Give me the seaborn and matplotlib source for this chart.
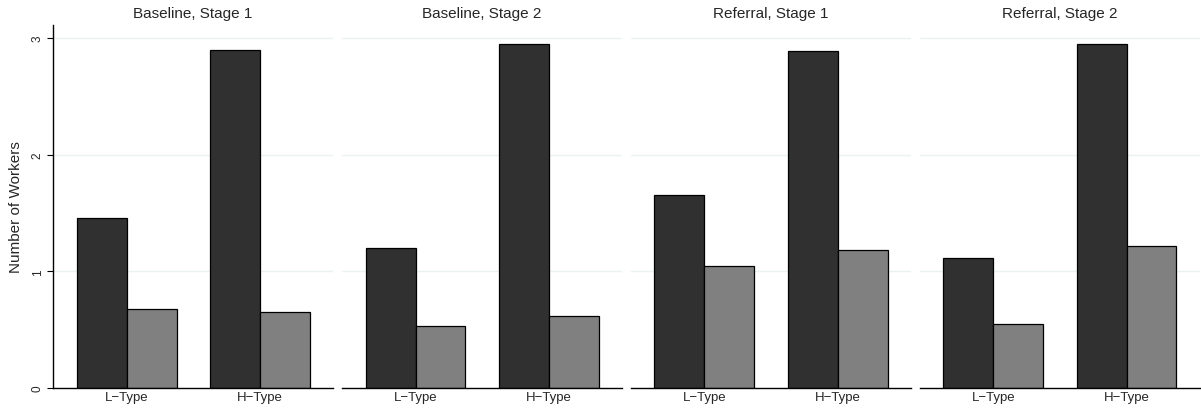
import matplotlib
matplotlib.use("Agg")
import matplotlib.pyplot as plt
import seaborn as sns
import pandas as pd

panels = ["Baseline, Stage 1", "Baseline, Stage 2", "Referral, Stage 1", "Referral, Stage 2"]
types = ["L\u2212Type", "H\u2212Type"]
series = ["A", "B"]
# values per panel: [L dark, L gray, H dark, H gray]
dark_vals = [[1.46, 2.90], [1.20, 2.95], [1.65, 2.885], [1.115, 2.95]]
gray_vals = [[0.68, 0.65], [0.53, 0.615], [1.047, 1.18], [0.546, 1.215]]
colors = ["#303030", "#808080"]

sns.set_theme(style="white")
plt.rcParams['font.family'] = ['Liberation Sans', 'DejaVu Sans']

fig, axes = plt.subplots(1, 4, figsize=(12.01, 4.10), dpi=100, sharey=True)
fig.subplots_adjust(left=0.0444, right=0.999, bottom=0.0512, top=0.9366, wspace=0.033)

for i, ax in enumerate(axes):
    rows = []
    for j, t in enumerate(types):
        rows.append({"type": t, "series": series[0], "value": dark_vals[i][j]})
        rows.append({"type": t, "series": series[1], "value": gray_vals[i][j]})
    df = pd.DataFrame(rows)
    sns.barplot(data=df, x="type", y="value", hue="series", hue_order=series,
                order=types, palette=colors, width=0.75, gap=0,
                edgecolor="black", linewidth=0.9, saturation=1, ax=ax, legend=False)
    ax.set_xlim(-0.55, 1.55)
    ax.set_ylim(0, 3.11)
    ax.set_yticks([0, 1, 2, 3])
    ax.yaxis.grid(True, color="#eaf2f3", linewidth=1)
    ax.set_axisbelow(True)
    ax.set_title(panels[i], fontsize=11, pad=6)
    ax.set_xlabel("")
    ax.tick_params(axis="x", length=0, labelsize=9.5, pad=2)
    for s in ["top", "right"]:
        ax.spines[s].set_visible(False)
    ax.spines["bottom"].set_color("black")
    ax.spines["bottom"].set_linewidth(1)
    if i == 0:
        ax.spines["left"].set_color("black")
        ax.spines["left"].set_linewidth(1)
        ax.set_ylabel("Number of Workers", fontsize=11, labelpad=6)
        ax.tick_params(axis="y", left=True, length=4, width=0.8, color="black",
                       labelsize=8.5, pad=3)
        for lab in ax.get_yticklabels():
            lab.set_rotation(90)
            lab.set_va("center")
    else:
        ax.spines["left"].set_visible(False)
        ax.set_ylabel("")
        ax.tick_params(axis="y", left=False, labelleft=False)

fig.savefig("out.png", dpi=100)
